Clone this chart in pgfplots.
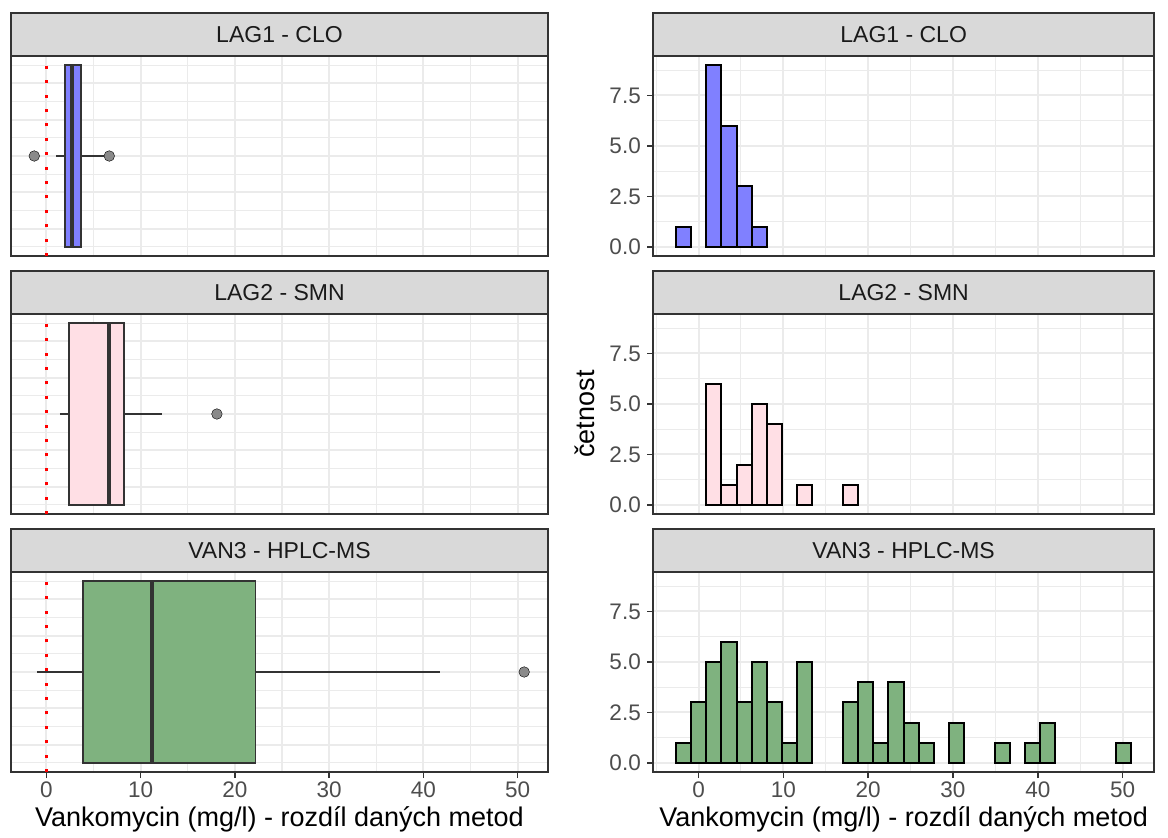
\documentclass[border=0pt]{standalone}
\usepackage{pgfplots}
\pgfplotsset{compat=1.18}
\usepackage{fontspec}
\setmainfont{Liberation Sans}
\definecolor{gridc}{HTML}{EBEBEB}
\definecolor{framec}{HTML}{333333}
\definecolor{stripc}{HTML}{D9D9D9}
\definecolor{stript}{HTML}{1A1A1A}
\definecolor{tickc}{HTML}{4D4D4D}
\definecolor{fblue}{HTML}{8080FF}
\definecolor{fpink}{HTML}{FFDFE5}
\definecolor{fgreen}{HTML}{7FB27F}
\definecolor{outc}{HTML}{8A8A8A}
\newcommand\tickfont{\fontsize{22.5}{25}\selectfont}
\newcommand\stripfont{\fontsize{23}{26}\selectfont}
\newcommand\titlefont{\fontsize{27}{30}\selectfont}

\pgfplotsset{
  panel/.style={
    scale only axis, height=200pt,
    axis line style={draw=framec, line width=1.8pt},
    grid=both,
    major grid style={draw=gridc, line width=2pt},
    minor grid style={draw=gridc, line width=1.1pt},
    tick align=outside, major tick length=6pt, minor tick length=0pt,
    tick style={draw=framec, line width=1.4pt},
    xtick pos=left, ytick pos=left,
    ticklabel style={font=\tickfont, text=tickc},
    yticklabel style={xshift=-3pt},
  },
  boxpanel/.style={panel, width=537.6pt,
    xmin=-3.78, xmax=53.26, ymin=-0.55, ymax=0.55,
    xtick={0,10,20,30,40,50}, minor xtick={5,15,25,35,45},
    ytick={-0.4,-0.2,0,0.2,0.4}, minor ytick={-0.5,-0.3,-0.1,0.1,0.3,0.5},
    yticklabels={}, ytick style={draw=none},
  },
  histpanel/.style={panel, width=500.7pt,
    xmin=-5.33, xmax=53.7, ymin=-0.45, ymax=9.45,
    xtick={0,10,20,30,40,50}, minor xtick={-5,5,15,25,35,45},
    ytick={0,2.5,5,7.5}, minor ytick={1.25,3.75,6.25,8.75},
    yticklabels={0.0,2.5,5.0,7.5},
  },
  upper/.style={xticklabels={}, xtick style={draw=none}},
  lower/.style={xticklabels={0,10,20,30,40,50}},
  bx/.style={draw=framec, line width=1.8pt},
  med/.style={draw=framec, line width=4.2pt},
  hist/.style={ybar, bar width=1.79, bar shift=0pt, draw=black, line width=2pt},
  zero/.style={red, line width=3pt, dash pattern=on 3pt off 11.4pt},
  outl/.style={only marks, mark=*, mark size=5.3pt, mark options={fill=outc, draw=none}},
}

\begin{document}
\begin{tikzpicture}
\useasboundingbox (0pt,0pt) rectangle (1168pt,-838pt);

\foreach \yy/\lab in {13/{LAG1 - CLO},271/{LAG2 - SMN},529/{VAN3 - HPLC-MS}}{
  \draw[fill=stripc, draw=framec, line width=1.8pt] (10.7pt,-\yy pt) rectangle (548.3pt,-\yy pt-43pt);
  \node[font=\stripfont, text=stript] at (279.5pt,-\yy pt-21.5pt) {\lab};
  \draw[fill=stripc, draw=framec, line width=1.8pt] (653.3pt,-\yy pt) rectangle (1154pt,-\yy pt-43pt);
  \node[font=\stripfont, text=stript] at (903.65pt,-\yy pt-21.5pt) {\lab};
}

% ---------- LAG1 box ----------
\begin{axis}[boxpanel, upper, at={(10.7pt,-56pt)}, anchor=north west]
\addplot[bx, fill=fblue] coordinates {(1.98,-0.5) (3.69,-0.5) (3.69,0.5) (1.98,0.5)} -- cycle;
\addplot[bx] coordinates {(1.03,0) (1.98,0)};
\addplot[bx] coordinates {(3.69,0) (6.1,0)};
\addplot[med] coordinates {(2.74,-0.5) (2.74,0.5)};
\addplot[outl] coordinates {(-1.28,0) (6.68,0)};
\addplot[zero] coordinates {(0,-0.55) (0,0.55)};
\end{axis}

% ---------- LAG2 box ----------
\begin{axis}[boxpanel, upper, at={(10.7pt,-314pt)}, anchor=north west]
\addplot[bx, fill=fpink] coordinates {(2.38,-0.5) (8.23,-0.5) (8.23,0.5) (2.38,0.5)} -- cycle;
\addplot[bx] coordinates {(1.43,0) (2.38,0)};
\addplot[bx] coordinates {(8.23,0) (12.26,0)};
\addplot[med] coordinates {(6.64,-0.5) (6.64,0.5)};
\addplot[outl] coordinates {(18.1,0)};
\addplot[zero] coordinates {(0,-0.55) (0,0.55)};
\end{axis}

% ---------- VAN3 box ----------
\begin{axis}[boxpanel, lower, at={(10.7pt,-572pt)}, anchor=north west]
\addplot[bx, fill=fgreen] coordinates {(3.89,-0.5) (22.19,-0.5) (22.19,0.5) (3.89,0.5)} -- cycle;
\addplot[bx] coordinates {(-1.0,0) (3.89,0)};
\addplot[bx] coordinates {(22.19,0) (41.75,0)};
\addplot[med] coordinates {(11.18,-0.5) (11.18,0.5)};
\addplot[outl] coordinates {(50.7,0)};
\addplot[zero] coordinates {(0,-0.55) (0,0.55)};
\end{axis}

% ---------- LAG1 hist ----------
\begin{axis}[histpanel, upper, at={(653.3pt,-56pt)}, anchor=north west]
\addplot[hist, fill=fblue] coordinates {(-1.78,1) (1.80,9) (3.59,6) (5.38,3) (7.17,1)};
\end{axis}

% ---------- LAG2 hist ----------
\begin{axis}[histpanel, upper, at={(653.3pt,-314pt)}, anchor=north west]
\addplot[hist, fill=fpink] coordinates {(1.80,6) (3.59,1) (5.38,2) (7.17,5) (8.96,4) (12.54,1) (17.91,1)};
\end{axis}

% ---------- VAN3 hist ----------
\begin{axis}[histpanel, lower, at={(653.3pt,-572pt)}, anchor=north west]
\addplot[hist, fill=fgreen] coordinates {
(-1.78,1) (0.01,3) (1.80,5) (3.59,6) (5.38,3) (7.17,5) (8.96,3) (10.75,1) (12.54,5)
(17.91,3) (19.70,4) (21.49,1) (23.28,4) (25.07,2) (26.86,1)
(30.44,2) (35.81,1) (39.39,1) (41.18,2) (50.13,1)};
\end{axis}

\node[rotate=90, font=\titlefont] at (585pt,-414pt) {četnost};
\node[font=\titlefont, anchor=base] at (279.5pt,-826pt) {Vankomycin (mg/l) - rozdíl daných metod};
\node[font=\titlefont, anchor=base] at (903.65pt,-826pt) {Vankomycin (mg/l) - rozdíl daných metod};
\end{tikzpicture}
\end{document}
